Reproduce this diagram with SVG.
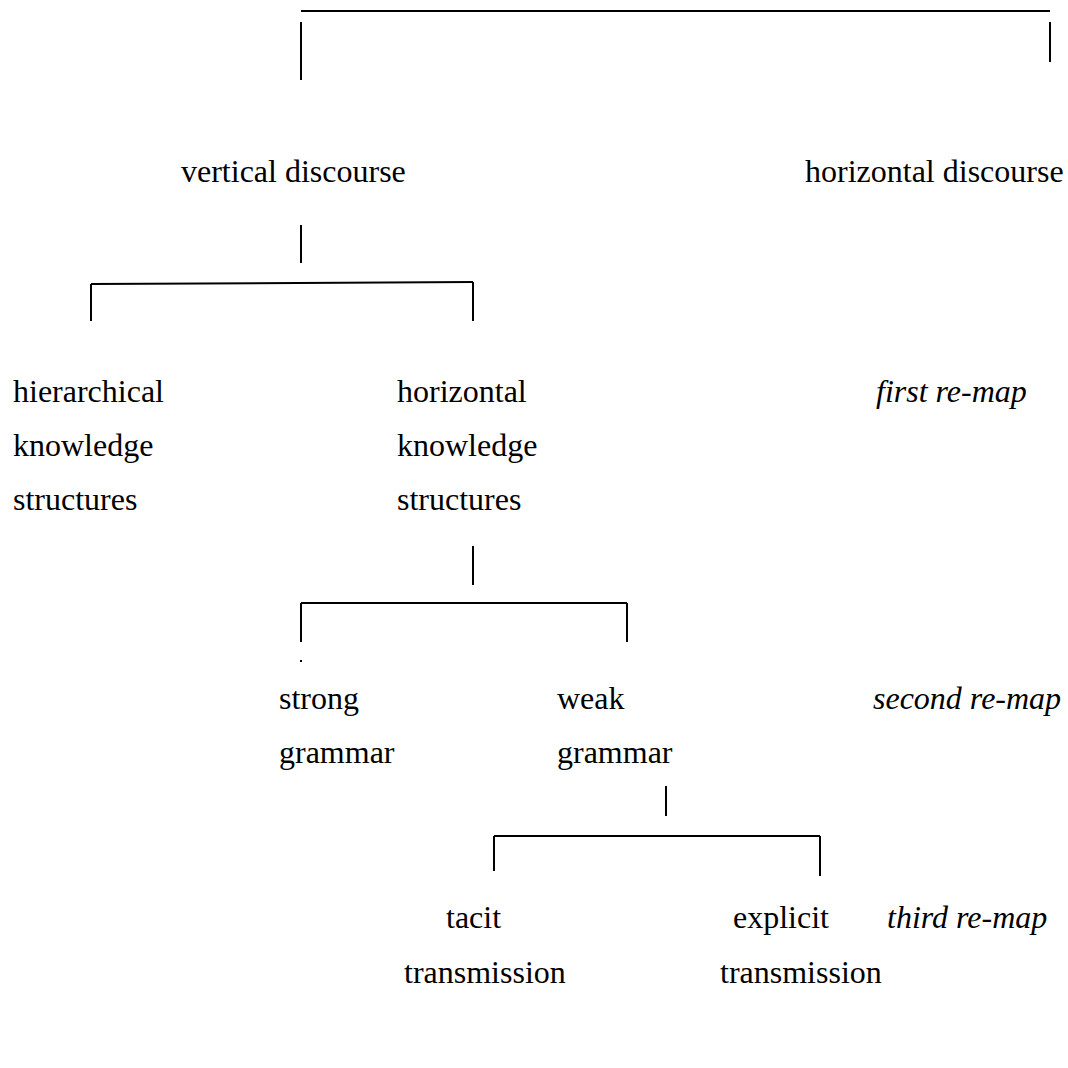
<svg xmlns="http://www.w3.org/2000/svg" width="1068" height="1068" viewBox="0 0 1068 1068">
<style>
text{font-family:"Liberation Serif","Times New Roman",serif;font-size:32px;fill:#000}
.it{font-style:italic}
.c line{stroke:#000;stroke-width:2}
</style>
<rect width="1068" height="1068" fill="#fff"/>
<g class="c" id="connectors">
<line x1="301" y1="11" x2="1050" y2="11"/>
<line x1="301" y1="22" x2="301" y2="80"/>
<line x1="1050" y1="22" x2="1050" y2="62"/>
<line x1="301" y1="225" x2="301" y2="263"/>
<line x1="91" y1="284" x2="473" y2="282"/>
<line x1="91" y1="284" x2="91" y2="321"/>
<line x1="473" y1="282" x2="473" y2="321"/>
<line x1="473" y1="546" x2="473" y2="585"/>
<line x1="301" y1="603" x2="627" y2="603"/>
<line x1="301" y1="603" x2="301" y2="642"/>
<line x1="627" y1="603" x2="627" y2="642"/>
<line x1="301" y1="660" x2="301" y2="662"/>
<line x1="666" y1="786" x2="666" y2="816"/>
<line x1="494" y1="836" x2="820" y2="836"/>
<line x1="494" y1="836" x2="494" y2="871"/>
<line x1="820" y1="836" x2="820" y2="876"/>
</g>
<g id="vertical-discourse"><text x="181" y="182">vertical discourse</text></g>
<g id="horizontal-discourse"><text x="805" y="182">horizontal discourse</text></g>
<g id="hierarchical"><text x="13" y="402">hierarchical</text><text x="13" y="456">knowledge</text><text x="13" y="510">structures</text></g>
<g id="horizontal-ks"><text x="397" y="402">horizontal</text><text x="397" y="456">knowledge</text><text x="397" y="510">structures</text></g>
<g id="first-remap"><text class="it" x="876" y="402">first re-map</text></g>
<g id="strong"><text x="279" y="709">strong</text><text x="279" y="763">grammar</text></g>
<g id="weak"><text x="557" y="709">weak</text><text x="557" y="763">grammar</text></g>
<g id="second-remap"><text class="it" x="873" y="709">second re-map</text></g>
<g id="tacit"><text x="446" y="928">tacit</text><text x="404" y="983">transmission</text></g>
<g id="explicit"><text x="733" y="928">explicit</text><text x="720" y="983">transmission</text></g>
<g id="third-remap"><text class="it" x="887" y="928">third re-map</text></g>
</svg>
